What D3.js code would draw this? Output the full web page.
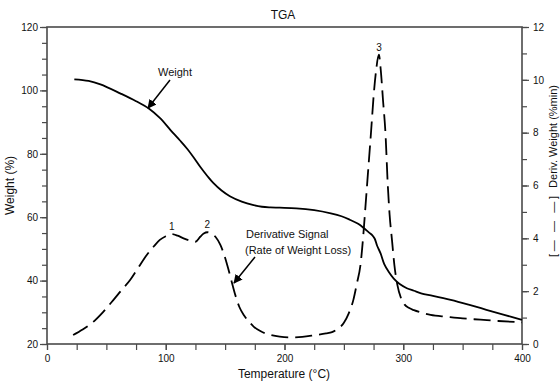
<!DOCTYPE html>
<html>
<head>
<meta charset="utf-8">
<script src="https://cdn.jsdelivr.net/npm/d3@7"></script>
<style>
  body { margin: 0; background: #fff; }
  text { font-family: "Liberation Sans", Arial, sans-serif; fill: #111; }
</style>
</head>
<body>
<svg id="chart" width="560" height="383"></svg>
<script>
/* weight curve */
const weightTemp = [23, 35, 45, 62, 75, 86, 95, 104, 112, 118, 124, 129, 135, 140, 147, 154, 164, 174, 181, 188, 196, 210, 225, 239, 248, 255, 262, 267, 271, 274, 276, 278, 281, 284, 288, 292, 297, 303, 309, 315, 325, 340, 355, 370, 385, 400];
const weightPct = [103.5, 103.0, 101.9, 99.0, 96.6, 94.2, 91.3, 87.5, 84.2, 81.6, 78.6, 75.9, 73.0, 70.8, 68.4, 66.6, 64.9, 63.8, 63.3, 63.1, 63.0, 62.8, 62.2, 61.2, 60.3, 59.2, 57.9, 56.5, 55.2, 54.3, 53.2, 51.0, 48.5, 45.2, 42.6, 40.6, 38.9, 37.6, 36.8, 36.0, 35.2, 33.9, 32.4, 30.8, 29.2, 27.6];

/* derivative signal */
const derivTemp = [22, 30, 39, 47, 56, 63, 70, 77, 84, 90, 95, 100, 105, 110, 115, 120, 125, 129, 132, 135, 138, 142, 146, 149, 152, 155, 158.6, 162, 166, 170, 174, 180, 188, 196, 205, 215, 225, 235, 240, 245, 250, 254, 258, 261, 264, 266.5, 268.5, 271, 273, 275, 277, 279.5, 281, 283, 285, 287, 288.5, 290.5, 292.5, 295, 298, 301, 305, 309, 316, 323, 337, 350, 365, 380, 400];
const derivVal = [0.34, 0.55, 0.84, 1.2, 1.67, 2.05, 2.42, 2.9, 3.37, 3.7, 3.94, 4.08, 4.16, 4.1, 4.0, 3.92, 3.87, 4.06, 4.18, 4.23, 4.18, 4.05, 3.75, 3.4, 2.95, 2.45, 1.85, 1.4, 1.08, 0.85, 0.66, 0.48, 0.35, 0.28, 0.25, 0.27, 0.33, 0.4, 0.45, 0.58, 0.8, 1.15, 1.67, 2.3, 3.0, 4.2, 5.4, 6.9, 8.1, 9.36, 10.3, 10.95, 10.4, 9.2, 8.0, 6.0, 4.9, 3.94, 3.0, 2.25, 1.75, 1.5, 1.36, 1.28, 1.18, 1.1, 1.03, 0.97, 0.92, 0.87, 0.82];

/* peak labels */
const peakNames = ["1", "2", "3"];
const peakTemp = [105, 135, 279.5];
const peakVal = [4.16, 4.23, 10.95];

const xTicks = [0, 100, 200, 300, 400];
const yLeftTicks = [20, 40, 60, 80, 100, 120];
const yRightTicks = [0, 2, 4, 6, 8, 10, 12];

const margin = { top: 27, right: 38, bottom: 39, left: 47 };
const width = 560, height = 383;
const axisColor = "#4a4a4a";

const svg = d3.select("#chart");

const x = d3.scaleLinear().domain([0, 400]).range([margin.left, width - margin.right]);
const yL = d3.scaleLinear().domain([20, 120]).range([height - margin.bottom, margin.top]);
const yR = d3.scaleLinear().domain([0, 12]).range([height - margin.bottom, margin.top]);

function styleAxis(g) {
    g.select(".domain").remove();
    g.selectAll("line").attr("stroke", axisColor).attr("stroke-width", 1.2);
    g.selectAll("text").attr("font-size", 10).style("font-family", "\"Liberation Sans\", Arial, sans-serif").attr("fill", "#111");
}

/* minor ticks */
svg.append("g").attr("transform", "translate(0," + (height - margin.bottom) + ")")
    .call(d3.axisBottom(x).tickValues(d3.range(0, 401, 25)).tickSize(6).tickFormat(""))
    .call(styleAxis);
svg.append("g").attr("transform", "translate(" + margin.left + ",0)")
    .call(d3.axisLeft(yL).tickValues(d3.range(20, 121, 5)).tickSize(5).tickFormat(""))
    .call(styleAxis);
svg.append("g").attr("transform", "translate(" + (width - margin.right) + ",0)")
    .call(d3.axisRight(yR).tickValues(d3.range(0, 13, 1)).tickSize(5).tickFormat(""))
    .call(styleAxis);

/* major ticks + labels */
svg.append("g").attr("transform", "translate(0," + (height - margin.bottom) + ")")
    .call(d3.axisBottom(x).tickValues(xTicks).tickSize(6).tickPadding(5))
    .call(styleAxis);
svg.append("g").attr("transform", "translate(" + margin.left + ",0)")
    .call(d3.axisLeft(yL).tickValues(yLeftTicks).tickSize(7).tickPadding(2))
    .call(styleAxis);
svg.append("g").attr("transform", "translate(" + (width - margin.right) + ",0)")
    .call(d3.axisRight(yR).tickValues(yRightTicks).tickSize(7).tickPadding(4))
    .call(styleAxis);

// frame
svg.append("rect")
    .attr("x", margin.left).attr("y", margin.top)
    .attr("width", width - margin.left - margin.right)
    .attr("height", height - margin.top - margin.bottom)
    .attr("fill", "none").attr("stroke", axisColor).attr("stroke-width", 1.6);

// curves
const weightLine = d3.line()
    .x((d, i) => x(weightTemp[i]))
    .y(d => yL(d))
    .curve(d3.curveCatmullRom.alpha(0.5));
svg.append("path").datum(weightPct)
    .attr("d", weightLine)
    .attr("fill", "none").attr("stroke", "#000").attr("stroke-width", 1.8);

const derivLine = d3.line()
    .x((d, i) => x(derivTemp[i]))
    .y(d => yR(d))
    .curve(d3.curveMonotoneX);
svg.append("path").datum(derivVal)
    .attr("d", derivLine)
    .attr("fill", "none").attr("stroke", "#000").attr("stroke-width", 1.8)
    .attr("stroke-dasharray", "17,7");

// peak numbers
svg.selectAll(".peak").data(peakNames).enter()
    .append("text")
    .attr("x", (d, i) => x(peakTemp[i]))
    .attr("y", (d, i) => yR(peakVal[i]) - 4)
    .attr("text-anchor", "middle")
    .attr("font-size", 10)
    .text(d => d);

// arrows
svg.append("defs").append("marker")
    .attr("id", "arrow").attr("viewBox", "0 0 10 10")
    .attr("refX", 9).attr("refY", 5)
    .attr("markerWidth", 9).attr("markerHeight", 9)
    .attr("markerUnits", "userSpaceOnUse")
    .attr("orient", "auto")
    .append("path").attr("d", "M0,0L10,5L0,10z").attr("fill", "#000");

svg.append("line")
    .attr("x1", 170).attr("y1", 80).attr("x2", 148).attr("y2", 108)
    .attr("stroke", "#000").attr("stroke-width", 1.5).attr("marker-end", "url(#arrow)");
svg.append("line")
    .attr("x1", 255).attr("y1", 257).attr("x2", 234).attr("y2", 283)
    .attr("stroke", "#000").attr("stroke-width", 1.5).attr("marker-end", "url(#arrow)");

svg.append("text").attr("x", 175).attr("y", 76).attr("text-anchor", "middle")
    .attr("font-size", 11).text("Weight");
svg.append("text").attr("x", 246).attr("y", 238).attr("font-size", 11).text("Derivative Signal");
svg.append("text").attr("x", 245).attr("y", 254).attr("font-size", 11).text("(Rate of Weight Loss)");

// titles
svg.append("text").attr("x", 283).attr("y", 19).attr("text-anchor", "middle")
    .attr("font-size", 12).text("TGA");
svg.append("text").attr("x", 284).attr("y", 378).attr("text-anchor", "middle")
    .attr("font-size", 12).text("Temperature (°C)");
svg.append("text")
    .attr("transform", "translate(14," + ((margin.top + height - margin.bottom) / 2) + ") rotate(-90)")
    .attr("text-anchor", "middle").attr("font-size", 12).text("Weight (%)");

// right axis title: bracket with dashes, then the words
const rTitle = svg.append("g").attr("transform", "translate(557,0) rotate(-90)");
rTitle.append("text")
    .attr("x", -257).attr("font-size", 11)
    .attr("textLength", 61).attr("lengthAdjust", "spacing")
    .text("[— — —]");
rTitle.append("text")
    .attr("x", -85).attr("text-anchor", "end").attr("font-size", 11)
    .text("Deriv. Weight (%min)");
</script>
</body>
</html>
